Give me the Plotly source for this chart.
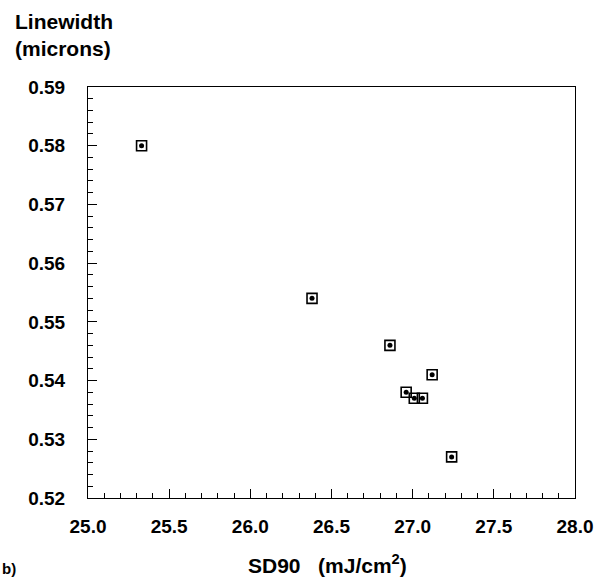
import plotly.graph_objects as go

sd90 = [25.33, 26.38, 26.86, 27.12, 26.96, 27.01, 27.06, 27.24]
linewidth = [0.580, 0.554, 0.546, 0.541, 0.538, 0.537, 0.537, 0.527]

x_ticks = [25.0, 25.5, 26.0, 26.5, 27.0, 27.5, 28.0]
y_ticks = [0.52, 0.53, 0.54, 0.55, 0.56, 0.57, 0.58, 0.59]

FAM = "Liberation Sans, Arial, sans-serif"

fig = go.Figure()
fig.add_trace(go.Scatter(
    x=sd90, y=linewidth, mode="markers",
    marker=dict(symbol="square-open", size=10, color="black",
                line=dict(width=1.6, color="black")),
    showlegend=False, hoverinfo="skip",
))
fig.add_trace(go.Scatter(
    x=sd90, y=linewidth, mode="markers",
    marker=dict(symbol="circle", size=5, color="black"),
    showlegend=False,
))

fig.update_layout(
    width=605, height=578,
    margin=dict(l=88, r=27, t=87, b=80),
    paper_bgcolor="white", plot_bgcolor="white",
    font=dict(family=FAM, size=18, color="black"),
    xaxis=dict(
        range=[25.0, 28.0], tickvals=x_ticks,
        ticktext=[f"<b>{v:.1f}</b>" for v in x_ticks],
        tickfont=dict(family=FAM, size=19, color="black"),
        ticks="inside", ticklen=9, tickwidth=1, tickcolor="black",
        minor=dict(dtick=0.1, ticks="inside", ticklen=5, tickcolor="black"),
        showline=True, linecolor="black", linewidth=1, mirror=True,
        showgrid=False, zeroline=False, ticklabelstandoff=11,
    ),
    yaxis=dict(
        range=[0.52, 0.59], tickvals=y_ticks,
        ticktext=[f"<b>{v:.2f}</b>" for v in y_ticks],
        tickfont=dict(family=FAM, size=19, color="black"),
        ticks="inside", ticklen=9, tickwidth=1, tickcolor="black",
        minor=dict(dtick=0.002, ticks="inside", ticklen=5, tickcolor="black"),
        showline=True, linecolor="black", linewidth=1, mirror=True,
        showgrid=False, zeroline=False, ticklabelstandoff=18,
    ),
    annotations=[
        dict(text="<b>Linewidth<br>(microns)</b>", xref="paper", yref="paper",
             x=0, xshift=-75, y=1.0, yshift=79, xanchor="left", yanchor="top",
             align="left", showarrow=False,
             font=dict(family=FAM, size=21, color="black")),
        dict(text="<b>SD90   (mJ/cm<sup>2</sup>)</b>", xref="paper", yref="paper",
             x=0.5, xshift=-4, y=0, yshift=-51, xanchor="center", yanchor="top",
             showarrow=False,
             font=dict(family=FAM, size=21, color="black")),
        dict(text="<b>b)</b>", xref="paper", yref="paper",
             x=0, xshift=-88, y=0, yshift=-60, xanchor="left", yanchor="top",
             showarrow=False,
             font=dict(family=FAM, size=15, color="black")),
    ],
)

fig.write_html("out.html", config={"displayModeBar": False})
with open("out.html", "r", encoding="utf-8") as f:
    html = f.read()
html = html.replace("<body>", '<body style="margin:0;padding:0;">', 1)
with open("out.html", "w", encoding="utf-8") as f:
    f.write(html)
